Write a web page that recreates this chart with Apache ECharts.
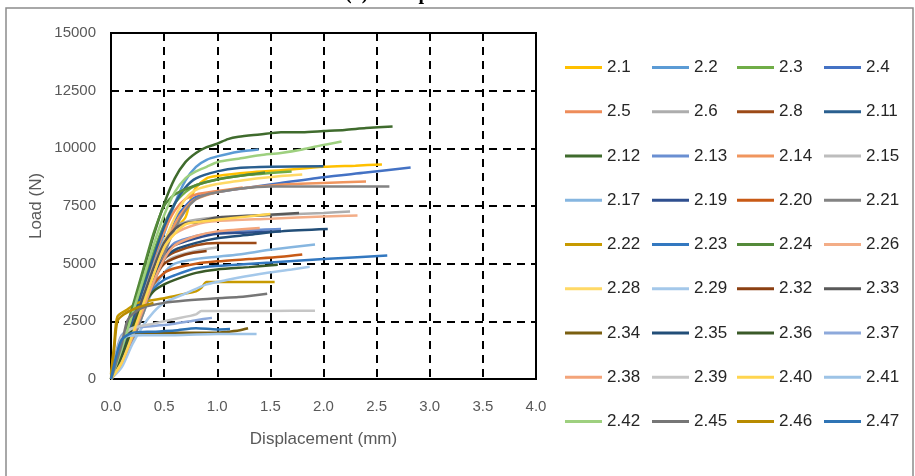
<!DOCTYPE html>
<html><head><meta charset="utf-8">
<script src="https://cdn.jsdelivr.net/npm/echarts@6/dist/echarts.min.js"></script>
<style>html,body{margin:0;padding:0;background:#fff}#c{width:915px;height:476px}</style>
</head><body><div id="c"></div>
<script>
// ---- data (displacement mm, load N) ----
const xTicks = [0,0.5,1,1.5,2,2.5,3,3.5,4];
const yTicks = [0,2500,5000,7500,10000,12500,15000];
const s2_1  = [[0,0],[0.1,900],[0.2,2100],[0.3,3400],[0.4,4600],[0.5,5700],[0.6,6500],[0.7,7000],[0.75,7800],[0.8,8300],[0.9,8700],[1.0,8800],[1.3,8950],[1.6,9050],[2.0,9200],[2.3,9250],[2.55,9300]];
const s2_2  = [[0,0],[0.1,1000],[0.2,2300],[0.3,3700],[0.4,5000],[0.5,6300],[0.6,7600],[0.7,8600],[0.8,9200],[0.9,9500],[1.0,9650],[1.2,9850],[1.39,9950]];
const s2_3  = [[0,100],[0.1,1300],[0.2,2700],[0.3,4100],[0.4,5500],[0.5,6700],[0.6,7600],[0.7,8100],[0.8,8400],[1.0,8650],[1.3,8850],[1.7,9000]];
const s2_4  = [[0,0],[0.1,900],[0.2,2100],[0.3,3400],[0.4,4700],[0.5,5900],[0.6,6900],[0.7,7500],[0.8,7900],[1.0,8100],[1.3,8300],[1.6,8500],[2.0,8750],[2.4,8950],[2.82,9170]];
const s2_5  = [[0,0],[0.1,1000],[0.2,2400],[0.3,3800],[0.4,5200],[0.5,6400],[0.6,7300],[0.7,7800],[0.8,8000],[1.0,8150],[1.24,8300]];
const s2_6  = [[0,0],[0.1,900],[0.2,2200],[0.3,3600],[0.4,4900],[0.5,6000],[0.6,6600],[0.7,6800],[0.8,6900],[1.0,7000],[1.5,7100],[2.0,7200],[2.25,7260]];
const s2_8  = [[0,0],[0.1,800],[0.2,2000],[0.3,3300],[0.4,4500],[0.5,5200],[0.6,5500],[0.8,5800],[1.0,5900],[1.37,5900]];
const s2_11 = [[0,200],[0.1,1200],[0.2,2500],[0.3,3900],[0.4,5300],[0.5,6600],[0.6,7600],[0.7,8300],[0.8,8700],[1.0,9000],[1.2,9150],[1.5,9200],[2.0,9220]];
const s2_12 = [[0,300],[0.1,1500],[0.2,3000],[0.3,4600],[0.4,6200],[0.5,7600],[0.6,8700],[0.7,9400],[0.8,9800],[0.9,10050],[1.0,10200],[1.1,10400],[1.2,10500],[1.4,10600],[1.6,10700],[1.8,10700],[2.0,10750],[2.2,10800],[2.4,10880],[2.65,10950]];
const s2_13 = [[0,0],[0.1,800],[0.2,1900],[0.3,3100],[0.4,4300],[0.5,5300],[0.6,5900],[0.8,6200],[1.0,6350],[1.3,6450],[1.6,6500]];
const s2_14 = [[0,0],[0.1,700],[0.2,1800],[0.3,3000],[0.4,4300],[0.5,5600],[0.6,6700],[0.7,7400],[0.8,7800],[1.0,8100],[1.3,8300],[1.7,8450],[2.0,8500],[2.4,8560]];
const s2_15 = [[0,0],[0.1,700],[0.2,1800],[0.3,3000],[0.4,4200],[0.5,5000],[0.6,5300],[0.8,5550],[1.0,5700]];
const s2_17 = [[0,0],[0.1,600],[0.2,1600],[0.3,2800],[0.4,3900],[0.5,4600],[0.6,5000],[0.8,5200],[1.0,5300],[1.2,5400],[1.5,5600],[1.92,5830]];
const s2_19 = [[0,0],[0.1,900],[0.2,2200],[0.3,3500],[0.4,4600],[0.5,5400],[0.6,5800],[0.8,6100],[1.0,6300],[1.3,6350],[1.6,6400]];
const s2_20 = [[0,0],[0.1,700],[0.2,1900],[0.3,3100],[0.4,4100],[0.5,4600],[0.6,4800],[0.8,5000],[1.0,5100],[1.3,5200],[1.6,5300],[1.8,5400]];
const s2_21 = [[0,0],[0.1,600],[0.2,1600],[0.3,2800],[0.4,4100],[0.5,5400],[0.6,6500],[0.7,7300],[0.8,7800],[0.9,8000],[1.0,8100],[1.2,8250],[1.5,8350],[2.0,8350],[2.62,8350]];
const s2_22 = [[0,200],[0.03,1500],[0.06,2700],[0.15,3000],[0.25,3300],[0.5,3500],[0.7,3700],[0.8,3800],[0.85,3950],[0.9,4200],[1.2,4200],[1.54,4200]];
const s2_23 = [[0,0],[0.1,800],[0.2,2000],[0.3,3100],[0.4,3900],[0.5,4300],[0.6,4500],[0.8,4800],[1.0,4900],[1.5,5050],[2.0,5200],[2.6,5350]];
const s2_24 = [[0,0],[0.1,1500],[0.2,3100],[0.3,4700],[0.4,6300],[0.5,7500],[0.6,8000],[0.8,8400],[1.0,8650],[1.2,8800],[1.45,8950]];
const s2_26 = [[0,0],[0.1,800],[0.2,2000],[0.3,3300],[0.4,4600],[0.5,5700],[0.6,6300],[0.8,6700],[1.0,6850],[1.5,6950],[2.0,7050],[2.32,7090]];
const s2_28 = [[0,0],[0.1,800],[0.2,2000],[0.3,3300],[0.4,4600],[0.5,5900],[0.6,7000],[0.7,7800],[0.8,8200],[1.0,8450],[1.3,8650],[1.6,8800],[1.8,8870]];
const s2_29 = [[0,0],[0.1,500],[0.2,1500],[0.3,2300],[0.4,2900],[0.5,3300],[0.7,3700],[0.9,4100],[1.1,4300],[1.4,4550],[1.7,4750],[1.87,4870]];
const s2_32 = [[0,0],[0.1,800],[0.2,2000],[0.3,3200],[0.4,4300],[0.5,5000],[0.7,5400],[0.9,5550]];
const s2_33 = [[0,0],[0.1,900],[0.2,2200],[0.3,3500],[0.4,4800],[0.5,5900],[0.6,6500],[0.7,6750],[0.8,6800],[1.0,7000],[1.4,7100],[1.77,7200]];
const s2_34 = [[0,0],[0.05,1000],[0.1,1800],[0.2,2000],[0.5,2000],[0.8,2000],[1.0,2000],[1.1,2050],[1.2,2100],[1.29,2200]];
const s2_35 = [[0,0],[0.1,800],[0.2,2000],[0.3,3200],[0.4,4400],[0.5,5200],[0.6,5600],[0.8,5900],[1.0,6100],[1.3,6250],[1.6,6400],[2.04,6500]];
const s2_36 = [[0,0],[0.1,1000],[0.2,2200],[0.3,3200],[0.4,3800],[0.5,4100],[0.6,4300],[0.8,4600],[1.0,4750],[1.3,4850],[1.57,4950]];
const s2_37 = [[0,0],[0.05,1200],[0.1,1900],[0.2,2200],[0.4,2300],[0.6,2400],[0.8,2550],[0.95,2650]];
const s2_38 = [[0,0],[0.1,700],[0.2,1800],[0.3,3000],[0.4,4200],[0.5,5200],[0.6,5800],[0.8,6200],[1.0,6400],[1.4,6550]];
const s2_39 = [[0,0],[0.05,1000],[0.1,1800],[0.2,2200],[0.4,2400],[0.6,2600],[0.8,2800],[0.85,2950],[1.0,2950],[1.5,2950],[1.92,2960]];
const s2_40 = [[0,0],[0.1,700],[0.2,1900],[0.3,3200],[0.4,4500],[0.5,5700],[0.6,6300],[0.7,6700],[0.8,6800],[1.0,6900],[1.3,7050],[1.5,7150]];
const s2_41 = [[0,0],[0.05,700],[0.1,1500],[0.15,1850],[0.3,1900],[0.6,1900],[1.0,1950],[1.37,1950]];
const s2_42 = [[0,0],[0.1,1300],[0.2,2800],[0.3,4300],[0.4,5800],[0.5,7100],[0.6,8100],[0.7,8700],[0.8,9000],[0.9,9200],[1.0,9400],[1.2,9550],[1.4,9700],[1.6,9800],[1.8,9950],[2.0,10150],[2.17,10300]];
const s2_45 = [[0,0],[0.1,1500],[0.15,2500],[0.2,2800],[0.3,3100],[0.5,3300],[0.7,3400],[1.0,3500],[1.2,3550],[1.47,3700]];
const s2_46 = [[0,0],[0.03,1300],[0.06,2500],[0.12,2800],[0.25,3100],[0.4,3300]];
const s2_47 = [[0,0],[0.05,1000],[0.1,1700],[0.2,2000],[0.4,2050],[0.6,2100],[0.8,2200],[1.0,2150],[1.12,2170]];

const names  = ['2.1','2.2','2.3','2.4','2.5','2.6','2.8','2.11','2.12','2.13','2.14','2.15','2.17','2.19','2.20','2.21','2.22','2.23','2.24','2.26','2.28','2.29','2.32','2.33','2.34','2.35','2.36','2.37','2.38','2.39','2.40','2.41','2.42','2.45','2.46','2.47'];
const values = [s2_1,s2_2,s2_3,s2_4,s2_5,s2_6,s2_8,s2_11,s2_12,s2_13,s2_14,s2_15,s2_17,s2_19,s2_20,s2_21,s2_22,s2_23,s2_24,s2_26,s2_28,s2_29,s2_32,s2_33,s2_34,s2_35,s2_36,s2_37,s2_38,s2_39,s2_40,s2_41,s2_42,s2_45,s2_46,s2_47];
const colors = ['#FFC000','#5B9BD5','#70AD47','#4472C4','#EE8C5A','#ADADAD','#9C4A17','#2A5F8F','#3F6B2D','#6A8FD2','#F0955E','#BDBDBD','#86B6E0','#2F4F8F','#C85A16','#838383','#C79A00','#3378C0','#548A3A','#F3AD87','#FFD966','#A4C8EA','#8B3F12','#595959','#7A5F10','#224E78','#3A5A28','#8DA9DB','#F3A47A','#C6C6C6','#FFD54F','#9DC3E6','#9ED07F','#767676','#B88B00','#2F74B5'];

const chart = echarts.init(document.getElementById('c'), null, {renderer:'canvas'});
const FONT = 'Liberation Sans';
const cols = [565, 652, 737, 824];
const legends = cols.map((x, ci) => ({
  orient: 'vertical', left: x - 5, top: 54, padding: 5,
  data: names.filter((n, i) => i % 4 === ci),
  icon: 'rect', itemWidth: 37, itemHeight: 3, itemGap: 27.25,
  textStyle: {fontFamily: FONT, fontSize: 17, color: '#262626'},
  selectedMode: false
}));
chart.setOption({
  animation: false,
  backgroundColor: '#fff',
  color: colors,
  grid: {left: 111, right: 379, top: 33, bottom: 97, show: true, borderColor: '#000', borderWidth: 2, backgroundColor:'transparent'},
  legend: legends,
  xAxis: {
    type: 'value', min: xTicks[0], max: xTicks[xTicks.length-1], interval: 0.5,
    name: 'Displacement (mm)', nameLocation: 'middle', nameGap: 52,
    nameTextStyle: {fontFamily: FONT, fontSize: 17, color: '#595959'},
    axisLine: {show: false}, axisTick: {show: false},
    axisLabel: {fontFamily: FONT, fontSize: 15, color: '#595959', margin: 20, formatter: v => v.toFixed(1)},
    splitLine: {show: true, lineStyle: {color: '#000', type: [8, 6], width: 2}}
  },
  yAxis: {
    type: 'value', min: yTicks[0], max: yTicks[yTicks.length-1], interval: 2500,
    name: 'Load (N)', nameLocation: 'middle', nameGap: 66,
    nameTextStyle: {fontFamily: FONT, fontSize: 17, color: '#595959'},
    axisLine: {show: false}, axisTick: {show: false},
    axisLabel: {fontFamily: FONT, fontSize: 15, color: '#595959', margin: 15, formatter: v => String(v)},
    splitLine: {show: true, lineStyle: {color: '#000', type: [8, 6], width: 2}}
  },
  graphic: [
    {type: 'rect', silent: true, z: -10, shape: {x: 6, y: 8, width: 907, height: 480},
     style: {fill: 'none', stroke: '#8c8c8c', lineWidth: 1.5}},
    {type: 'text', silent: true, left: 345, top: -16,
     style: {text: '(a) Group 2', font: 'bold 20px "Liberation Serif"', fill: '#000'}}
  ],
  series: names.map((n, i) => ({
    name: n, type: 'line', data: values[i], symbol: 'none', smooth: 0.25,
    lineStyle: {width: 2.5, color: colors[i]}, itemStyle: {color: colors[i]}, z: 3
  }))
});
</script></body></html>
